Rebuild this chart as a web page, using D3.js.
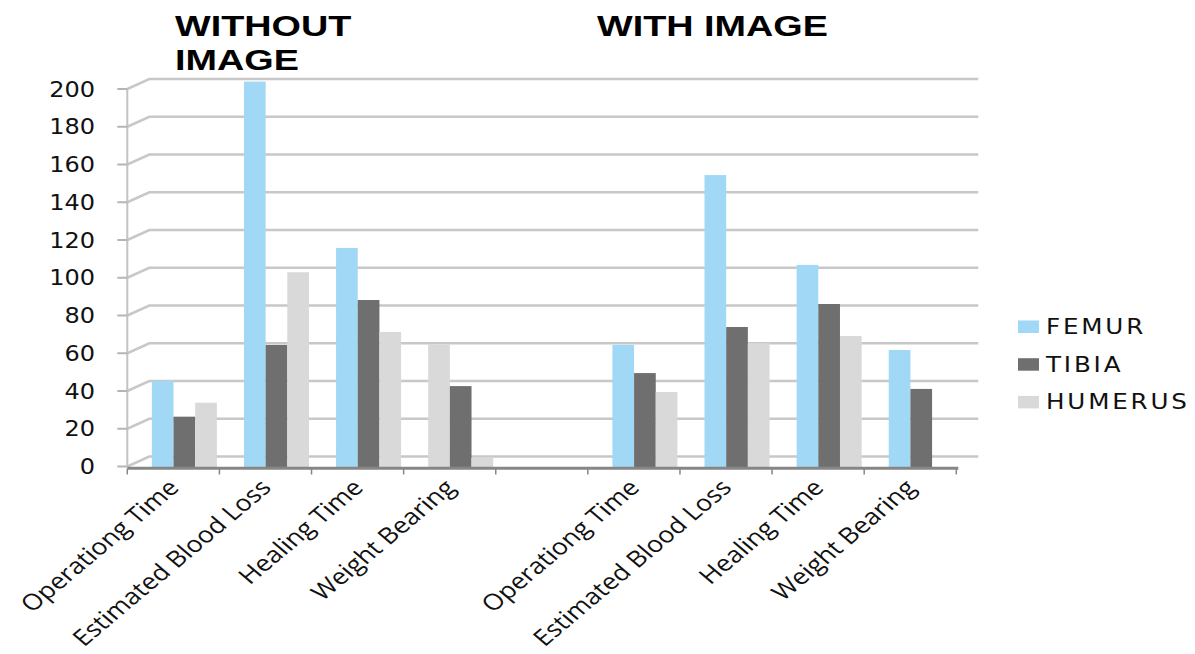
<!DOCTYPE html>
<html>
<head>
<meta charset="utf-8">
<script src="https://cdn.jsdelivr.net/npm/d3@7"></script>
<style>
  body { margin: 0; background: #fff; }
  svg { display: block; }
</style>
</head>
<body>
<script>
// ---------------Data---------------
const groups = ['WITHOUT IMAGE', 'WITH IMAGE']
const measures = ['Operationg Time', 'Estimated Blood Loss', 'Healing Time', 'Weight Bearing']
const series = ['FEMUR', 'TIBIA', 'HUMERUS']
const yTicks = [0, 20, 40, 60, 80, 100, 120, 140, 160, 180, 200]

const femurWithout = [45.3, 203.9, 115.8, 64.7]
const tibiaWithout = [26.4, 64.4, 88.2, 42.6]
const humerusWithout = [33.8, 102.9, 71.3, 4.7]
const femurWith = [64.4, 154.4, 106.8, 61.7]
const tibiaWith = [49.5, 73.9, 86.1, 41.1]
const humerusWith = [39.5, 65.3, 69.1, 0]

const colors = { FEMUR: '#a0d8f5', TIBIA: '#6f6f6f', HUMERUS: '#d9d9d9' }
// the femur bar of "Weight Bearing" (without image) is painted grey in the source
const greyPoint = { group: 0, measure: 3, series: 'FEMUR' }

const fullWidth = 1195
const fullHeight = 654
const depthX = 22
const depthY = -10
const stretch = 1.19

const values = [
  { FEMUR: femurWithout, TIBIA: tibiaWithout, HUMERUS: humerusWithout },
  { FEMUR: femurWith, TIBIA: tibiaWith, HUMERUS: humerusWith }
]

// slots: 4 measures, a spacer, 4 measures
const slots = []
groups.forEach((g, gi) => {
  measures.forEach((m, mi) => slots.push(`${gi}-${mi}`))
  if (gi === 0) slots.push('gap')
})

const rows = []
groups.forEach((g, gi) => {
  measures.forEach((m, mi) => {
    series.forEach(s => {
      rows.push({ group: gi, measure: mi, slot: `${gi}-${mi}`, series: s, value: values[gi][s][mi] })
    })
  })
})

const svg = d3.select('body')
  .append('svg')
  .attr('width', fullWidth)
  .attr('height', fullHeight)

const x0 = d3.scaleBand()
  .domain(slots)
  .range([127.3, 956.3])

const x1 = d3.scaleBand()
  .domain(series)
  .range([0, x0.bandwidth() * 0.706])

const y = d3.scaleLinear()
  .domain([0, 200])
  .range([466.5, 89])

const barShift = (x0.bandwidth() - x1.range()[1]) / 2 + depthX / 2
const left = x0.range()[0]
const right = x0.range()[1]

// ---------------Walls & gridlines---------------
const grid = svg.append('g')
yTicks.forEach(v => {
  grid.append('path')
    .attr('d', `M${left},${y(v)}L${left + depthX},${y(v) + depthY}H${right + depthX}`)
    .attr('fill', 'none')
    .attr('stroke', '#c8c8c8')
    .attr('stroke-width', 2.5)
})

// value axis
svg.append('line')
  .attr('x1', left).attr('x2', left)
  .attr('y1', y(200) - 1).attr('y2', y(0))
  .attr('stroke', '#c3c3c3')
  .attr('stroke-width', 2)

svg.append('g').selectAll('line')
  .data(yTicks)
  .enter().append('line')
  .attr('x1', left - 10).attr('x2', left)
  .attr('y1', d => y(d)).attr('y2', d => y(d))
  .attr('stroke', '#b5b5b5')
  .attr('stroke-width', 2)

svg.append('g').selectAll('text')
  .data(yTicks)
  .enter().append('text')
  .attr('transform', d => `translate(95,${y(d) + 7.5}) scale(1.17,1)`)
  .attr('text-anchor', 'end')
  .attr('font-family', 'DejaVu Sans')
  .attr('font-size', 20.5)
  .attr('fill', '#111')
  .text(d => d)

// ---------------Bars---------------
svg.append('g').selectAll('rect')
  .data(rows.filter(d => d.value > 0))
  .enter().append('rect')
  .attr('x', d => x0(d.slot) + barShift + x1(d.series))
  .attr('width', x1.bandwidth())
  .attr('y', d => y(d.value))
  .attr('height', d => y(0) - y(d.value) + 0.5)
  .attr('fill', d => {
    if (d.group === greyPoint.group && d.measure === greyPoint.measure && d.series === greyPoint.series) {
      return colors.HUMERUS
    }
    return colors[d.series]
  })

// ---------------Category axis---------------
svg.append('line')
  .attr('x1', left).attr('x2', right + 2)
  .attr('y1', y(0) + 1.8).attr('y2', y(0) + 1.8)
  .attr('stroke', '#868686')
  .attr('stroke-width', 3)

const tickXs = slots.map(s => x0(s)).concat([right])
svg.append('g').selectAll('line')
  .data(tickXs)
  .enter().append('line')
  .attr('x1', d => d).attr('x2', d => d)
  .attr('y1', y(0) + 2).attr('y2', y(0) + 8)
  .attr('stroke', '#868686')
  .attr('stroke-width', 1.5)

svg.append('g').selectAll('text')
  .data(slots.filter(s => s !== 'gap'))
  .enter().append('text')
  .attr('transform', s => `translate(${x0(s) + x0.bandwidth() / 2 + 7},489) scale(${stretch},1) rotate(-45)`)
  .attr('text-anchor', 'end')
  .attr('font-family', 'Open Sans')
  .attr('font-size', 22.5)
  .attr('fill', '#111')
  .text(s => measures[+s.split('-')[1]])

// ---------------Titles---------------
const titles = svg.append('g')
  .attr('font-family', 'Liberation Sans')
  .attr('font-weight', 'bold')
  .attr('font-size', 28)
  .attr('fill', '#000')

titles.append('text')
  .attr('transform', `translate(175,36) scale(1.35,1.06)`)
  .text(groups[0].split(' ')[0])
titles.append('text')
  .attr('transform', `translate(175,69.5) scale(1.35,1.06)`)
  .text(groups[0].split(' ')[1])
titles.append('text')
  .attr('transform', `translate(597,36) scale(1.35,1.06)`)
  .text(groups[1])

// ---------------Legend---------------
const legend = svg.append('g').selectAll('g')
  .data(series)
  .enter().append('g')
  .attr('transform', (d, i) => `translate(1018,${334 + i * 37.7})`)

legend.append('rect')
  .attr('x', 0).attr('y', -13.5)
  .attr('width', 21).attr('height', 12.5)
  .attr('fill', d => colors[d])

legend.append('text')
  .attr('transform', `translate(28,0) scale(1.12,1)`)
  .attr('font-family', 'DejaVu Sans')
  .attr('font-size', 22)
  .attr('letter-spacing', 2.5)
  .attr('fill', '#111')
  .text(d => d)
</script>
</body>
</html>
